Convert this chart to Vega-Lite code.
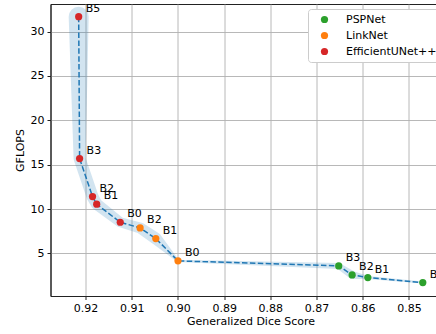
{
  "$schema": "https://vega.github.io/schema/vega-lite/v6.json",
  "width": 400,
  "height": 292,
  "autosize": "none",
  "padding": {"left": 50.5, "top": 4, "right": 0, "bottom": 38},
  "config": {
    "font": "DejaVu Sans",
    "view": {"stroke": "#222222", "strokeWidth": 1},
    "axis": {
      "domainColor": "#222222",
      "tickColor": "#222222",
      "tickSize": 3.5,
      "labelColor": "#000000",
      "labelFontSize": 11,
      "titleFontSize": 11,
      "titleFontWeight": "normal",
      "titleColor": "#000000",
      "gridColor": "#b0b0b0",
      "gridWidth": 0.9
    }
  },
  "data": {
    "values": [
      {"model": "EfficientUNet++", "variant": "B5", "dice": 0.9215, "gflops": 31.67, "idx": 0, "spread": 1.0},
      {"model": "EfficientUNet++", "variant": "B3", "dice": 0.9213, "gflops": 15.68, "idx": 1, "spread": 0.6},
      {"model": "EfficientUNet++", "variant": "B2", "dice": 0.9185, "gflops": 11.4, "idx": 2, "spread": 0.6},
      {"model": "EfficientUNet++", "variant": "B1", "dice": 0.9176, "gflops": 10.54, "idx": 3, "spread": 0.58},
      {"model": "EfficientUNet++", "variant": "B0", "dice": 0.9125, "gflops": 8.51, "idx": 4, "spread": 0.5},
      {"model": "LinkNet", "variant": "B2", "dice": 0.9082, "gflops": 7.87, "idx": 5, "spread": 0.55},
      {"model": "LinkNet", "variant": "B1", "dice": 0.9048, "gflops": 6.67, "idx": 6, "spread": 0.6},
      {"model": "LinkNet", "variant": "B0", "dice": 0.9, "gflops": 4.16, "idx": 7, "spread": 0.12},
      {"model": "PSPNet", "variant": "B3", "dice": 0.8652, "gflops": 3.59, "idx": 8, "spread": 0.3},
      {"model": "PSPNet", "variant": "B2", "dice": 0.8623, "gflops": 2.58, "idx": 9, "spread": 0.4},
      {"model": "PSPNet", "variant": "B1", "dice": 0.8589, "gflops": 2.28, "idx": 10, "spread": 0.15},
      {"model": "PSPNet", "variant": "B0", "dice": 0.847, "gflops": 1.71, "idx": 11, "spread": 0.1}
    ]
  },
  "encoding": {
    "x": {
      "field": "dice",
      "type": "quantitative",
      "title": "Generalized Dice Score",
      "scale": {"domain": [0.841, 0.9276], "reverse": true, "nice": false, "zero": false},
      "axis": {"values": [0.85, 0.86, 0.87, 0.88, 0.89, 0.9, 0.91, 0.92], "format": ".2f", "labelPadding": 3, "titlePadding": 2}
    },
    "y": {
      "field": "gflops",
      "type": "quantitative",
      "title": "GFLOPS",
      "scale": {"domain": [0.2, 33.1], "nice": false, "zero": false},
      "axis": {"values": [5, 10, 15, 20, 25, 30], "labelPadding": 3, "titlePadding": 5}
    }
  },
  "layer": [
    {
      "mark": {"type": "trail", "color": "#1f77b4", "opacity": 0.2},
      "encoding": {
        "order": {"field": "idx", "type": "quantitative"},
        "size": {"field": "spread", "type": "quantitative", "scale": {"domain": [0, 1], "range": [0, 20]}, "legend": null}
      }
    },
    {
      "mark": {"type": "line", "color": "#1f77b4", "strokeWidth": 1.5, "strokeDash": [5.5, 2.4]},
      "encoding": {
        "order": {"field": "idx", "type": "quantitative"}
      }
    },
    {
      "mark": {"type": "circle", "size": 52, "opacity": 1},
      "encoding": {
        "color": {
          "field": "model",
          "type": "nominal",
          "scale": {"domain": ["PSPNet", "LinkNet", "EfficientUNet++"], "range": ["#2ca02c", "#ff7f0e", "#d62728"]},
          "legend": {
            "title": null,
            "orient": "none",
            "legendX": 257.5,
            "legendY": 5,
            "padding": 5,
            "symbolOffset": 6,
            "labelOffset": 16,
            "labelFontSize": 11,
            "labelColor": "#000000",
            "symbolType": "circle",
            "symbolSize": 52,
            "rowPadding": 4,
            "strokeColor": "#cccccc",
            "fillColor": "#ffffff",
            "cornerRadius": 3
          }
        }
      }
    },
    {
      "mark": {"type": "text", "align": "left", "baseline": "middle", "dx": 7, "dy": -8, "fontSize": 11, "color": "#000000"},
      "encoding": {
        "text": {"field": "variant", "type": "nominal"}
      }
    }
  ]
}
